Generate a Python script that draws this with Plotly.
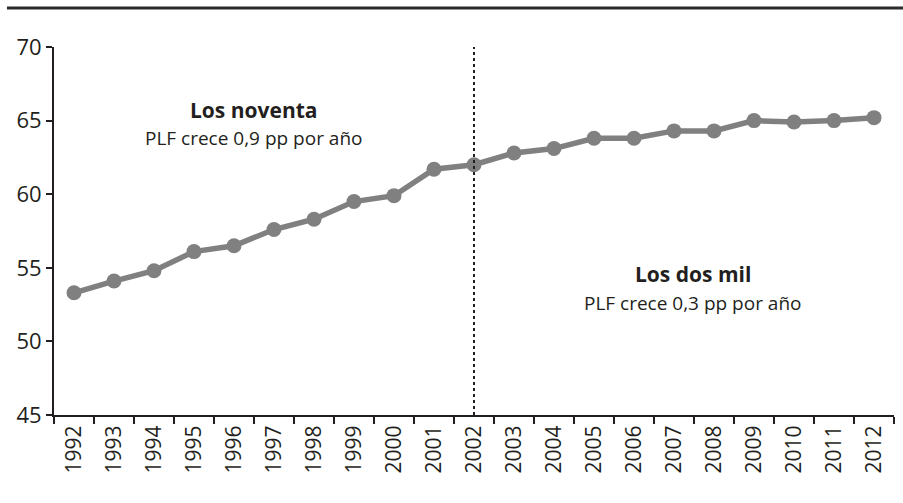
import plotly.graph_objects as go

years = [str(y) for y in range(1992, 2013)]
plf = [53.3, 54.1, 54.8, 56.1, 56.5, 57.6, 58.3, 59.5, 59.9, 61.7, 62.0,
       62.8, 63.1, 63.8, 63.8, 64.3, 64.3, 65.0, 64.9, 65.0, 65.2]
y_ticks = [45, 50, 55, 60, 65, 70]
split_year = "2002"

FONT = "Open Sans, sans-serif"
TXT = "#231f20"

fig = go.Figure()
fig.add_trace(go.Scatter(
    x=years, y=plf, mode="lines+markers",
    line=dict(color="#808080", width=5.5),
    marker=dict(color="#808080", size=15),
    showlegend=False, cliponaxis=False,
))

fig.add_shape(type="line", xref="x", yref="paper", x0=years.index(split_year), x1=years.index(split_year),
              y0=0, y1=1, line=dict(color="#231f20", width=2, dash="dot"))
fig.add_shape(type="line", xref="paper", yref="paper", x0=-0.056, x1=1.011,
              y0=1.106, y1=1.106, line=dict(color="#2b2b2b", width=3))

ann = dict(xref="paper", yref="paper", xanchor="center", yanchor="middle", showarrow=False)
fig.add_annotation(x=0.238, y=0.829, text="<b>Los noventa</b>",
                   font=dict(family=FONT, size=21, color=TXT), **ann)
fig.add_annotation(x=0.238, y=0.752, text="PLF crece 0,9 pp por año",
                   font=dict(family=FONT, size=19, color=TXT), **ann)
fig.add_annotation(x=0.761, y=0.383, text="<b>Los dos mil</b>",
                   font=dict(family=FONT, size=21, color=TXT), **ann)
fig.add_annotation(x=0.761, y=0.304, text="PLF crece 0,3 pp por año",
                   font=dict(family=FONT, size=19, color=TXT), **ann)

fig.update_layout(
    width=903, height=503,
    margin=dict(l=54, r=9, t=47, b=88),
    paper_bgcolor="white", plot_bgcolor="white",
    font=dict(family=FONT, color=TXT, size=20),
    xaxis=dict(type="category", range=[-0.5, 20.5], tickangle=-90,
               showline=True, linecolor="#231f20", linewidth=2,
               ticks="outside", tickson="boundaries", ticklen=7, tickwidth=1.5,
               tickcolor="#231f20", showgrid=False, zeroline=False,
               tickfont=dict(size=21)),
    yaxis=dict(range=[45, 70], tickvals=y_ticks, showline=True,
               linecolor="#231f20", linewidth=2, ticks="outside", ticklen=6,
               tickwidth=1.5, tickcolor="#231f20", showgrid=False, zeroline=False,
               tickfont=dict(size=22)),
)

fig.write_html("out.html", config={"displayModeBar": False},
               post_script="document.body.style.margin='0';document.body.style.overflow='hidden';")
